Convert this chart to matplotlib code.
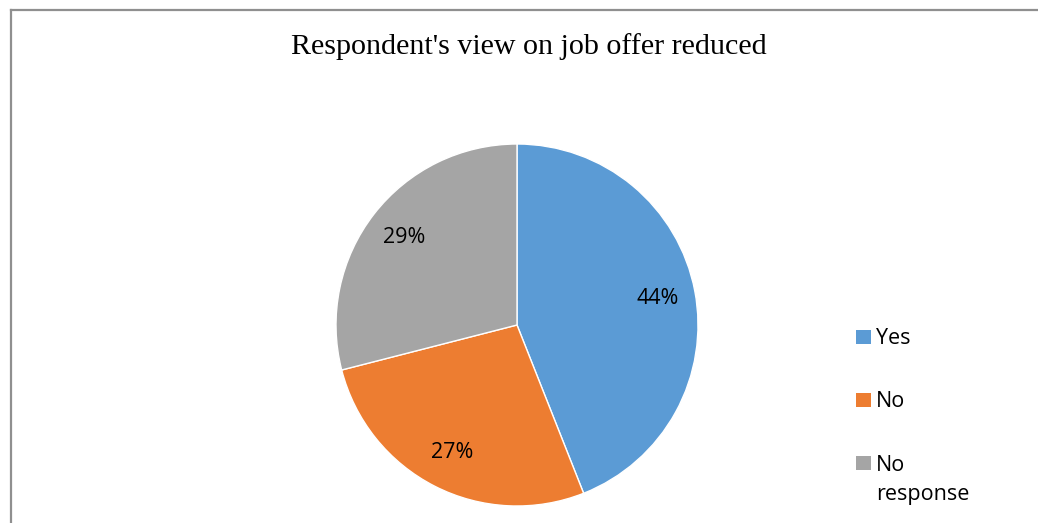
import matplotlib.pyplot as plt
from matplotlib.lines import Line2D
from matplotlib.patches import Rectangle

labels = ['Yes', 'No', 'No\nresponse']
values = [44, 27, 29]
colors = ['#5B9BD5', '#ED7D31', '#A5A5A5']

W, H = 1038, 523
fig = plt.figure(figsize=(W / 100, H / 100), dpi=100)

# pie axes: centre (517, 325) px, radius 181 px
cx, cy, r = 517, 325, 181
ax = fig.add_axes([(cx - r) / W, (H - cy - r) / H, 2 * r / W, 2 * r / H])
wedges, texts, autotexts = ax.pie(values, colors=colors, startangle=90, counterclock=False,
                                  autopct='%1.0f%%', pctdistance=0.79,
                                  wedgeprops=dict(edgecolor='white', linewidth=1))
for t in autotexts:
    t.set_fontsize(15.5)
    t.set_fontfamily('Open Sans')
    t.set_color('#000000')
ax.set_xlim(-1, 1)
ax.set_ylim(-1, 1)
ax.set_aspect('equal')

fig.text(529 / W, 1 - 47 / H, "Respondent's view on job offer reduced",
         ha='center', va='center', fontsize=21.6, family='Liberation Serif')

# legend drawn by hand (first-line baselines in px from top)
leg_base = [344, 407, 470]
line_px = 30
for lab, col, y in zip(labels, colors, leg_base):
    fig.patches.append(Rectangle((856 / W, 1 - y / H), 15 / W, 14 / H,
                                 transform=fig.transFigure, facecolor=col, edgecolor='none'))
    # baseline alignment uses the last line, so shift multi-line labels down
    y_last = y + line_px * lab.count('\n')
    fig.text(876 / W, 1 - y_last / H, lab, ha='left', va='baseline', fontsize=15.5,
             family='Open Sans', linespacing=1.5)

# frame around chart area
fig.add_artist(Line2D([10.5 / W, 1], [1 - 9.5 / H, 1 - 9.5 / H], transform=fig.transFigure,
                      color='#8f8f8f', lw=1.6))
fig.add_artist(Line2D([10.5 / W, 10.5 / W], [0, 1 - 9.5 / H], transform=fig.transFigure,
                      color='#8f8f8f', lw=1.6))

fig.savefig('out.png', dpi=100)
